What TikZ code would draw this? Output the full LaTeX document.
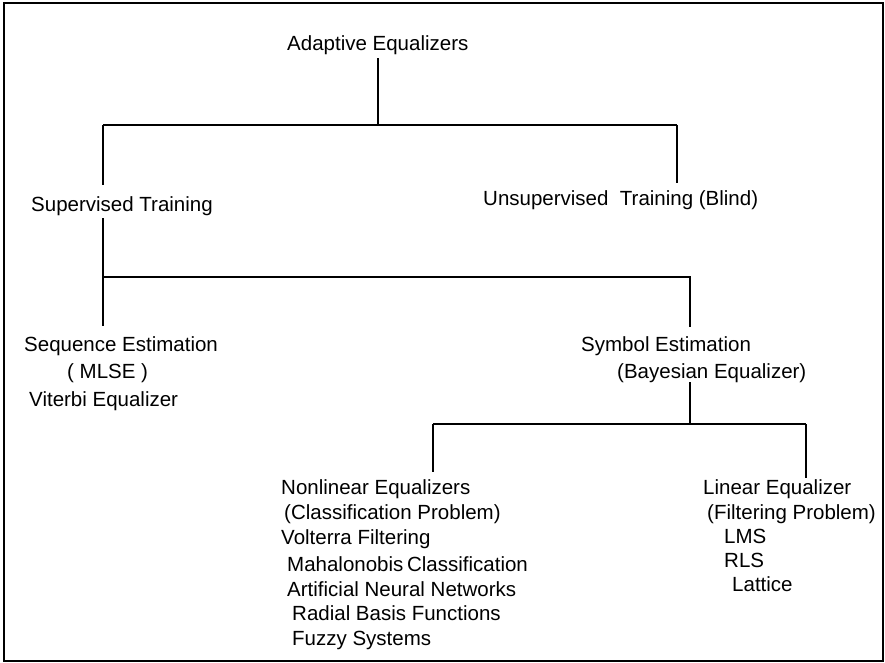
\documentclass[tikz,border=0pt]{standalone}
\usepackage{fontspec}
\setmainfont{Liberation Sans}
\begin{document}
\begin{tikzpicture}[x=1pt,y=-1pt,
  lbl/.style={anchor=base west,inner sep=0pt,font=\fontsize{20.5}{24}\selectfont},
  wire/.style={line width=1.9pt}]
\useasboundingbox (0,0) rectangle (885,663);
\draw[line width=2pt] (4,3) rectangle (883,661);
% labels
\node[lbl] (ae) at (287,51) {Adaptive Equalizers};
\node[lbl] (st) at (31,211) {Supervised Training};
\node[lbl] (ut) at (483,205) {Unsupervised\ \ Training (Blind)};
\node[lbl] (se) at (24,351) {Sequence Estimation};
\node[lbl] (mlse) at (67,378) {( MLSE )};
\node[lbl] (vit) at (29,406) {Viterbi Equalizer};
\node[lbl] (sy) at (581,351) {Symbol Estimation};
\node[lbl] (bay) at (617,378) {(Bayesian Equalizer)};
\node[lbl] (nl) at (281,494.5) {Nonlinear Equalizers};
\node[lbl] (cp) at (284,519.5) {(Classification Problem)};
\node[lbl] (vf) at (281,544.5) {Volterra Filtering};
\node[lbl] (mc) at (287,571) {Mahalonobis\hspace{-2pt} Classification};
\node[lbl] (ann) at (287,596) {Artificial Neural Networks};
\node[lbl] (rbf) at (292,620.5) {Radial Basis Functions};
\node[lbl] (fs) at (292,645) {Fuzzy Systems};
\node[lbl] (le) at (703,494.5) {Linear Equalizer};
\node[lbl] (fp) at (707,519.5) {(Filtering Problem)};
\node[lbl] (lms) at (724,543) {LMS};
\node[lbl] (rls) at (724,567) {RLS};
\node[lbl] (lat) at (732,591) {Lattice};
% junctions
\coordinate (b1) at (378,125);
\coordinate (b1l) at (103,125);
\coordinate (b1r) at (677,125);
\coordinate (b2l) at (103,277);
\coordinate (b2r) at (690,277);
\coordinate (b3) at (690,424);
\coordinate (b3l) at (433,424);
\coordinate (b3r) at (806,424);
% connectors
\draw[wire,shorten <=3pt] (ae.south -| b1) -- (b1);
\draw[wire] (b1l) -- (b1r);
\draw[wire,shorten >=11pt] (b1l) -- (st.north -| b1l);
\draw[wire,shorten >=7pt] (b1r) -- (ut.north -| b1r);
\draw[wire,shorten <=3pt,shorten >=10pt] (st.south -| b2l) -- (b2l) -- (se.north -| b2l);
\draw[wire,shorten >=9pt] (b2l) -- (b2r) -- (sy.north -| b2r);
\draw[wire] (bay.south -| b3) -- (b3);
\draw[wire] (b3l) -- (b3r);
\draw[wire,shorten >=7.5pt] (b3l) -- (nl.north -| b3l);
\draw[wire,shorten >=1pt] (b3r) -- (le.north -| b3r);
\end{tikzpicture}
\end{document}
